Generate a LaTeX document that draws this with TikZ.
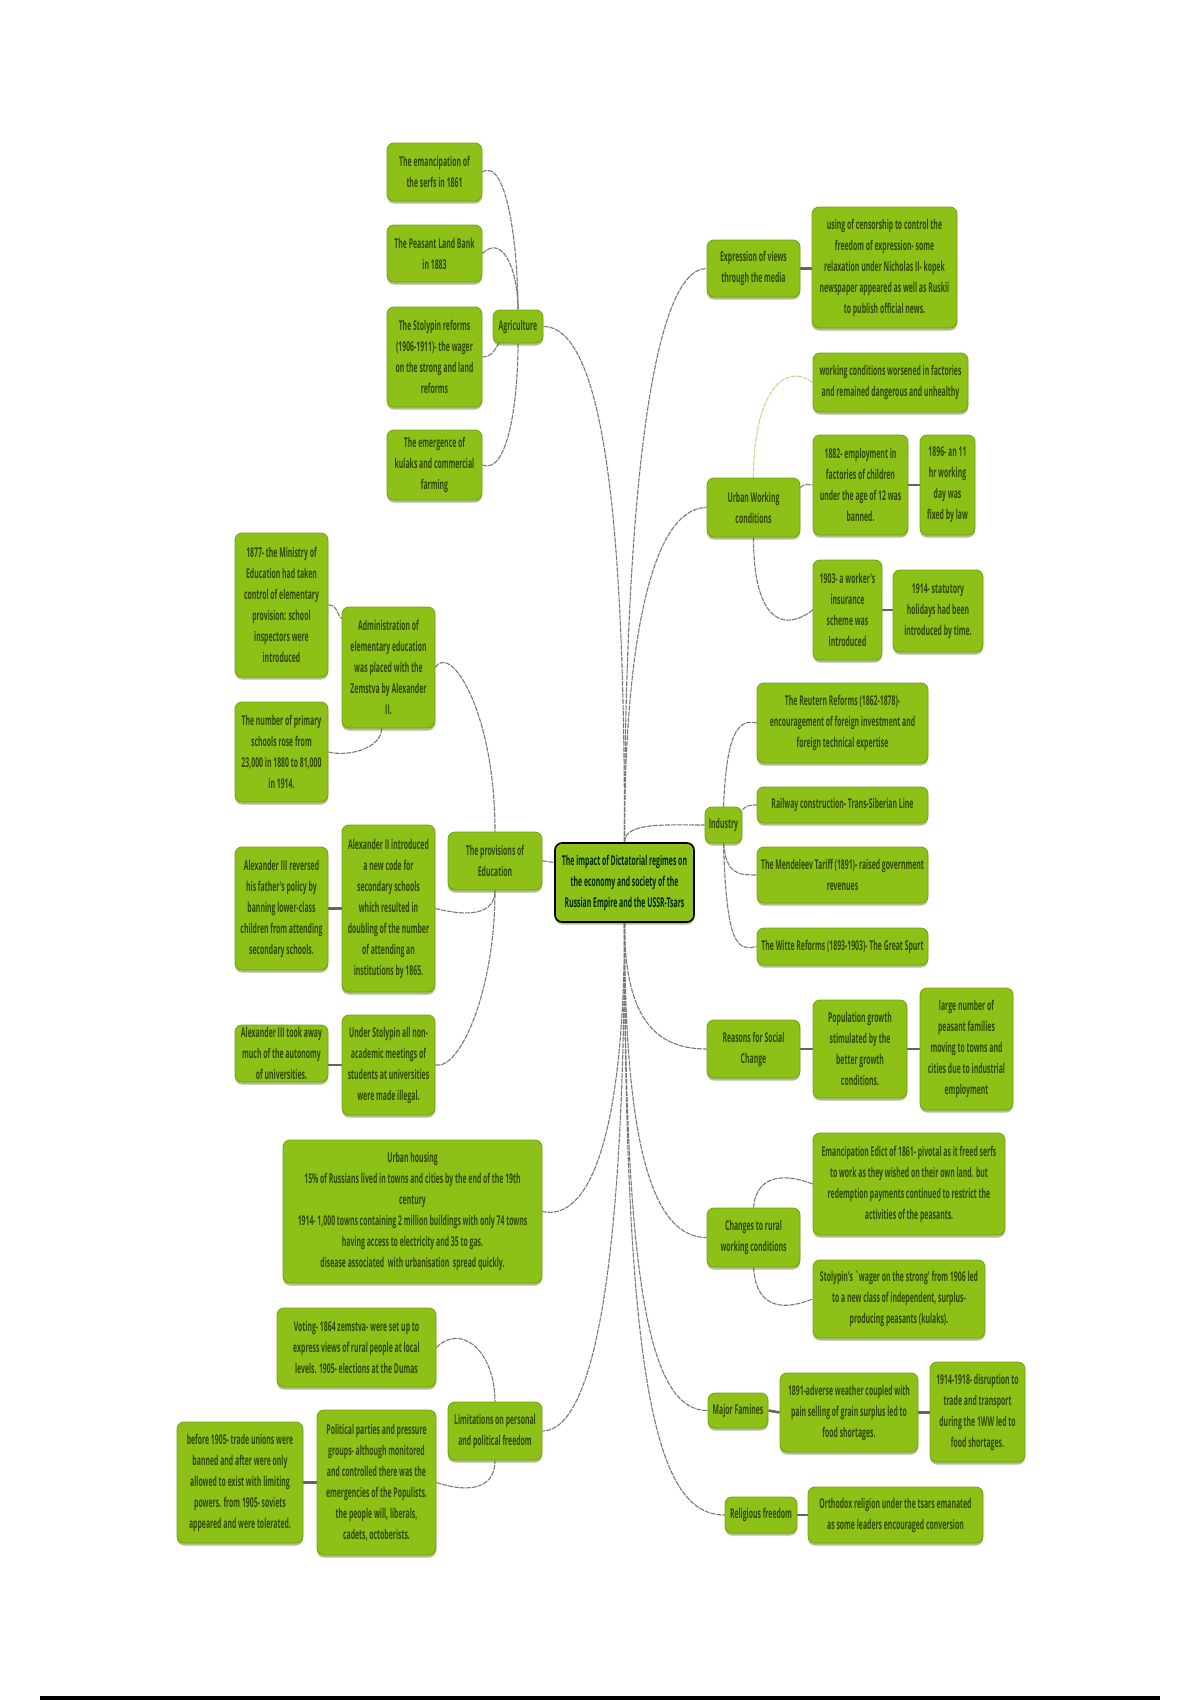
\documentclass[tikz,border=0pt]{standalone}
\usepackage{fontspec}
\newfontfamily\cond[FakeStretch=0.51]{Open Sans}
\usetikzlibrary{shadows,backgrounds,calc}
\definecolor{grn}{RGB}{141,193,23}
\definecolor{grnb}{RGB}{112,160,16}
\definecolor{txt}{RGB}{50,72,0}
\definecolor{cvc}{RGB}{120,120,120}
\definecolor{lnk}{RGB}{100,100,100}
\definecolor{ylw}{RGB}{205,215,130}
\tikzset{
 box/.style={draw=grnb, line width=0.8pt, fill=grn, rounded corners=7pt, inner sep=2pt, align=center, text=txt,
   font=\cond\bfseries\fontsize{13.5}{21}\selectfont,
   drop shadow={shadow xshift=0pt, shadow yshift=-2.5pt, fill=grnb!70!black, opacity=0.45}},
 sz/.style 2 args={minimum width=#1, minimum height=#2},
 cv/.style={draw=cvc, line width=1.1pt, dash pattern=on 5pt off 1pt},
 lk/.style={draw=lnk, line width=2.6pt},
}
\begin{document}
\begin{tikzpicture}[x=1pt,y=-1pt]
\useasboundingbox (0,0) rectangle (1200,1700);
% centre
\node[box, sz={139}{79}, draw=black, line width=1.6pt, text=black!85!green] (C) at (624.5,882.5) {The impact of Dictatorial regimes on\\the economy and society of the\\Russian Empire and the USSR-Tsars};
% Agriculture
\node[box, sz={50}{33}] (Agr) at (518,326.5) {Agriculture};
\node[box, sz={95}{58}] (A1) at (434.5,172) {The emancipation of\\the serfs in 1861};
\node[box, sz={95}{57}] (A2) at (434.5,253.5) {The Peasant Land Bank\\in 1883};
\node[box, sz={95}{100}] (A3) at (434.5,357) {The Stolypin reforms\\(1906-1911)- the wager\\on the strong and land\\reforms};
\node[box, sz={95}{70}] (A4) at (434.5,465) {The emergence of\\kulaks and commercial\\farming};
% Education
\node[box, sz={94}{58}] (Edu) at (495,861) {The provisions of\\Education};
\node[box, sz={93}{144}] (E1) at (281.5,605) {1877- the Ministry of\\Education had taken\\control of elementary\\provision: school\\inspectors were\\introduced};
\node[box, sz={93}{121}] (E2) at (388.5,667.5) {Administration of\\elementary education\\was placed with the\\Zemstva by Alexander\\II.};
\node[box, sz={93}{100}] (E3) at (281.5,752) {The number of primary\\schools rose from\\23,000 in 1880 to 81,000\\in 1914.};
\node[box, sz={93}{167}] (E4) at (388.5,908.5) {Alexander II introduced\\a new code for\\secondary schools\\which resulted in\\doubling of the number\\of attending an\\institutions by 1865.};
\node[box, sz={93}{123}] (E5) at (281.5,908.5) {Alexander III reversed\\his father's policy by\\banning lower-class\\children from attending\\secondary schools.};
\node[box, sz={93}{100}] (E6) at (388.5,1065) {Under Stolypin all non-\\academic meetings of\\students at universities\\were made illegal.};
\node[box, sz={93}{57}] (E7) at (281.5,1053.5) {Alexander III took away\\much of the autonomy\\of universities.};
% Urban housing and freedoms
\node[box, sz={259}{143}] (UH) at (412.5,1211.5) {Urban housing\\15\% of Russians lived in towns and cities by the end of the 19th\\century\\1914- 1,000 towns containing 2 million buildings with only 74 towns\\having access to electricity and 35 to gas.\\disease associated\ \ with urbanisation\ \ spread quickly.};
\node[box, sz={94}{58}] (Lim) at (495,1431) {Limitations on personal\\and political freedom};
\node[box, sz={159}{79}] (Vot) at (356.5,1347.5) {Voting- 1864 zemstva- were set up to\\express views of rural people at local\\levels. 1905- elections at the Dumas};
\node[box, sz={119}{145}] (Pol) at (376.5,1482.5) {Political parties and pressure\\groups- although monitored\\and controlled there was the\\emergencies of the Populists.\\the people will, liberals,\\cadets, octoberists.};
\node[box, sz={126}{121}] (Trd) at (240,1482.5) {before 1905- trade unions were\\banned and after were only\\allowed to exist with limiting\\powers. from 1905- soviets\\appeared and were tolerated.};
% Media
\node[box, sz={93}{57}] (Exp) at (753.5,268.5) {Expression of views\\through the media};
\node[box, sz={145}{121}] (Cen) at (884.5,267.5) {using of censorship to control the\\freedom of expression- some\\relaxation under Nicholas II- kopek\\newspaper appeared as well as Ruskii\\to publish official news.};
% Urban working
\node[box, sz={93}{59}] (UW) at (753.5,507.5) {Urban Working\\conditions};
\node[box, sz={155}{59}] (W1) at (890.5,382.5) {working conditions worsened in factories\\and remained dangerous and unhealthy};
\node[box, sz={95}{100}] (W2) at (860.5,485) {1882- employment in\\factories of children\\under the age of 12 was\\banned.};
\node[box, sz={55}{100}] (W3) at (947.5,485) {1896- an 11\\hr working\\day was\\fixed by law};
\node[box, sz={69}{100}] (W4) at (847.5,610) {1903- a worker's\\insurance\\scheme was\\introduced};
\node[box, sz={90}{82}] (W5) at (938,611) {1914- statutory\\holidays had been\\introduced by time.};
% Industry
\node[box, sz={37}{36}] (Ind) at (723.5,825) {Industry};
\node[box, sz={171}{80}] (I1) at (842.5,723) {The Reutern Reforms (1862-1878)-\\encouragement of foreign investment and\\foreign technical expertise};
\node[box, sz={171}{36}] (I2) at (842.5,805) {Railway construction- Trans-Siberian Line};
\node[box, sz={171}{56}] (I3) at (842.5,875) {The Mendeleev Tariff (1891)- raised government\\revenues};
\node[box, sz={171}{37}] (I4) at (842.5,946.5) {The Witte Reforms (1893-1903)- The Great Spurt};
% Social change
\node[box, sz={93}{58}] (Rea) at (753.5,1049) {Reasons for Social\\Change};
\node[box, sz={94}{98}] (S1) at (860,1049) {Population growth\\stimulated by the\\better growth\\conditions.};
\node[box, sz={93}{122}] (S2) at (966.5,1049) {large number of\\peasant families\\moving to towns and\\cities due to industrial\\employment};
% Rural
\node[box, sz={93}{59}] (Chg) at (753.5,1237.5) {Changes to rural\\working conditions};
\node[box, sz={192}{102}] (R1) at (909,1184) {Emancipation Edict of 1861- pivotal as it freed serfs\\to work as they wished on their own land. but\\redemption payments continued to restrict the\\activities of the peasants.};
\node[box, sz={172}{78}] (R2) at (899,1299) {Stolypin's `wager on the strong' from 1906 led\\to a new class of independent, surplus-\\producing peasants (kulaks).};
% Famines
\node[box, sz={60}{35}] (Fam) at (738,1410.5) {Major Famines};
\node[box, sz={138}{79}] (F1) at (849,1412.5) {1891-adverse weather coupled with\\pain selling of grain surplus led to\\food shortages.};
\node[box, sz={95}{100}] (F2) at (977.5,1412) {1914-1918- disruption to\\trade and transport\\during the 1WW led to\\food shortages.};
% Religion
\node[box, sz={72}{36}] (Rel) at (761,1515) {Religious freedom};
\node[box, sz={175}{56}] (Ort) at (895.5,1515) {Orthodox religion under the tsars emanated\\as some leaders encouraged conversion};

\begin{scope}[on background layer]
% trunk branches from the centre
\draw[cv] (C.north) .. controls +(0,-250) and +(70,0) .. (Agr.east);
\draw[cv] (C.north) .. controls +(0,-300) and +(-60,0) .. (Exp.west);
\draw[cv] (C.north) .. controls +(0,-200) and +(-55,0) .. (UW.west);
\draw[cv] (C.north) .. controls +(0,-20) and +(-40,0) .. (Ind.west);
\draw[cv] (Edu.east) .. controls +(8,0) and +(-5,0) .. ($(C.west)+(0,-20)$);
\draw[cv] (C.south) .. controls +(0,220) and +(45,10) .. (UH.east);
\draw[cv] (C.south) .. controls +(0,320) and +(55,0) .. (Lim.east);
\draw[cv] (C.south) .. controls +(0,90) and +(-55,0) .. (Rea.west);
\draw[cv] (C.south) .. controls +(0,220) and +(-55,0) .. (Chg.west);
\draw[cv] (C.south) .. controls +(0,380) and +(-55,0) .. (Fam.west);
\draw[cv] (C.south) .. controls +(0,480) and +(-65,0) .. (Rel.west);
% agriculture
\draw[cv] (A1.east) .. controls +(25,-15) and +(0,-60) .. (Agr.north);
\draw[cv] (A2.east) .. controls +(20,-20) and +(0,-40) .. (Agr.north);
\draw[cv] (A3.east) .. controls +(10,0) and +(-3,5) .. ($(Agr.south west)+(6,0)$);
\draw[cv] (A4.east) .. controls +(25,10) and +(0,60) .. (Agr.south);
% education
\draw[cv] (E1.east) .. controls +(10,0) and +(-6,-5) .. ($(E2.north west)+(0,12)$);
\draw[cv] (E3.east) .. controls +(20,5) and +(0,20) .. ($(E2.south west)+(40,0)$);
\draw[cv] (E2.east) .. controls +(15,-25) and +(0,-120) .. (Edu.north);
\draw[cv] (E4.east) .. controls +(20,5) and +(0,30) .. (Edu.south);
\draw[cv] (E6.east) .. controls +(25,5) and +(0,100) .. (Edu.south);
\draw[lk] (E4.west) -- (E4.west -| E5.east);
\draw[lk] (E6.west) -- (E6.west -| E7.east);
% freedoms
\draw[cv] (Vot.east) .. controls +(25,-25) and +(0,-50) .. (Lim.north);
\draw[cv] (Pol.east) .. controls +(30,10) and +(0,30) .. (Lim.south);
\draw[lk] (Pol.west) -- (Pol.west -| Trd.east);
% media
\draw[lk] (Exp.east) -- (Cen.west |- Exp.east);
% urban working
\draw[cv, draw=ylw] (UW.north) .. controls +(0,-90) and +(-25,-20) .. (W1.west);
\draw[cv] ($(UW.north east)+(0,10)$) .. controls +(6,-5) and +(-6,0) .. (W2.west);
\draw[lk] (W2.east) -- (W3.west);
\draw[cv] (UW.south) .. controls +(0,90) and +(-25,20) .. (W4.west);
\draw[lk] (W4.east) -- (W4.east -| W5.west);
% industry
\draw[cv] (Ind.north) .. controls +(3,-70) and +(-20,-5) .. (I1.west);
\draw[cv] ($(Ind.north east)+(0,3)$) .. controls +(6,-5) and +(-6,0) .. (I2.west);
\draw[cv] (Ind.south) .. controls +(3,30) and +(-20,0) .. (I3.west);
\draw[cv] (Ind.south) .. controls +(3,100) and +(-20,5) .. (I4.west);
% social change
\draw[lk] (Rea.east) -- (S1.west);
\draw[lk] (S1.east) -- (S2.west);
% rural
\draw[cv] (Chg.north) .. controls +(3,-35) and +(-25,-10) .. (R1.west);
\draw[cv] (Chg.south) .. controls +(3,45) and +(-25,10) .. (R2.west);
% famines, religion
\draw[lk] (Fam.east) -- (F1.west);
\draw[lk] (F1.east) -- (F1.east -| F2.west);
\draw[lk] (Rel.east) -- (Ort.west);
\end{scope}
% page rule
\fill[black] (40,1696) rectangle (1160,1700);
\end{tikzpicture}
\end{document}
